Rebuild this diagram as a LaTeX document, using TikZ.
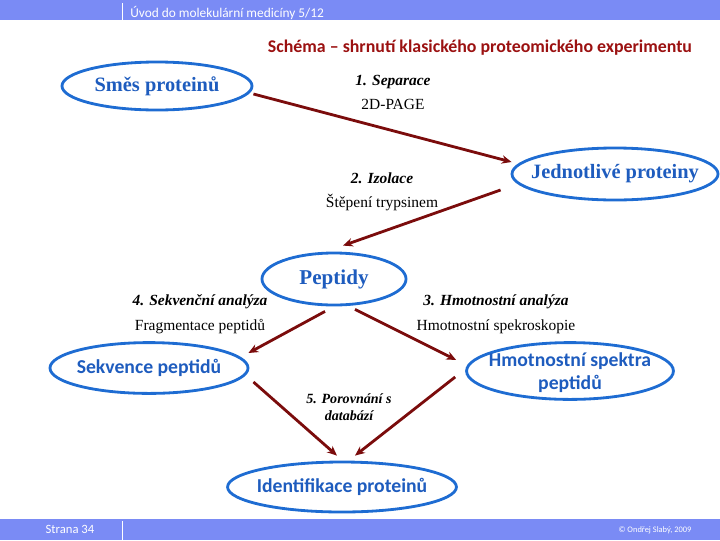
\documentclass[tikz,border=0pt]{standalone}
\usepackage{fontspec}
\setmainfont{Liberation Serif}
\newfontfamily\calibri{Carlito}
\usepackage{tikz}
\usetikzlibrary{positioning, arrows.meta, shapes.geometric}
\definecolor{barblue}{RGB}{122,139,245}
\definecolor{ovalblue}{RGB}{30,108,210}
\definecolor{textblue}{RGB}{30,92,190}
\definecolor{darkred}{RGB}{123,12,12}
\definecolor{titlered}{RGB}{155,17,17}

\begin{document}
\begin{tikzpicture}[
    x=0.025cm, y=-0.025cm,
    oval/.style={ellipse, draw=ovalblue, line width=2pt, inner sep=0pt},
    seriftext/.style={text=textblue, font=\bfseries\fontsize{14.5}{16}\selectfont},
    sanstext/.style={text=textblue, font=\calibri\bfseries\fontsize{14}{16}\selectfont, align=center},
    steplbl/.style={font=\bfseries\itshape\fontsize{11}{13}\selectfont, inner sep=1pt, align=center},
    method/.style={font=\fontsize{11}{13}\selectfont, inner sep=1pt},
    arrow/.style={-{Stealth[length=7pt, width=6pt]}, line width=2pt, darkred},
    bartext/.style={font=\calibri\fontsize{9.5}{11}\selectfont, text=white, inner sep=0pt}
]
\useasboundingbox (0,0) rectangle (720,540);

% Header and footer bars
\fill[barblue] (0,0) rectangle (720,20);
\fill[barblue] (0,519) rectangle (720,540);
\draw[white, thin] (122,3) -- (122,20);
\draw[white, thin] (122,521) -- (122,540);
\node[bartext, anchor=west] (course) at (130,13) {Úvod do molekulární medicíny 5/12};
\node[bartext, font=\calibri\fontsize{9}{10}\selectfont] (page) at (70,529) {Strana 34};
\node[bartext, font=\calibri\fontsize{6}{7}\selectfont] (copy) at (655,530) {© Ondřej Slabý, 2009};

% Title
\node[font=\calibri\bfseries\fontsize{12.7}{14}\selectfont, text=titlered] (title) at (480,48)
    {Schéma – shrnutí klasického proteomického experimentu};

% Ovals (text as centre labels, so the ovals keep their size)
\node[oval, minimum width=4.75cm, minimum height=1.2cm,
      label={[seriftext]center:Směs proteinů}] (smes) at (157,86) {};
\node[oval, minimum width=5.15cm, minimum height=1.3cm,
      label={[seriftext]center:Jednotlivé proteiny}] (jedn) at (615,174) {};
\node[oval, minimum width=3.6cm, minimum height=1.3cm,
      label={[seriftext, font=\bfseries\fontsize{15}{16}\selectfont]center:Peptidy}] (pep) at (334,279) {};
\node[oval, minimum width=4.95cm, minimum height=1.27cm,
      label={[sanstext]center:Sekvence peptidů}] (sek) at (149,368) {};
\node[oval, minimum width=5.17cm, minimum height=1.42cm,
      label={[sanstext, yshift=-1pt]center:Hmotnostní spektra\\peptidů}] (hms) at (570,371) {};
\node[oval, minimum width=5.72cm, minimum height=1.25cm,
      label={[sanstext]center:Identifikace proteinů}] (iden) at (342,487) {};

% Step labels
\node[steplbl] (sep1) at (393,82) {1. Separace};
\node[method, below=5pt of sep1] (sep2) {2D-PAGE};
\node[steplbl] (izo1) at (382,178) {2. Izolace};
\node[method, below=5pt of izo1] (izo2) {Štěpení trypsinem};
\node[steplbl] (seq1) at (200,302) {4. Sekvenční analýza};
\node[method, below=5pt of seq1] (seq2) {Fragmentace peptidů};
\node[steplbl] (ms1) at (496,302) {3. Hmotnostní analýza};
\node[method, below=5pt of ms1] (ms2) {Hmotnostní spekroskopie};
\node[steplbl, font=\bfseries\itshape\fontsize{10}{12.5}\selectfont] (cmp) at (349,407) {5. Porovnání s\\databází};

% Arrows
\draw[arrow] ([shift={(0,8)}]smes.east) -- ([shift={(1,-12)}]jedn.west);
\draw[arrow] ([shift={(-10,16)}]jedn.west) -- ([shift={(9,-6)}]pep.north);
\draw[arrow] ([shift={(-9,5)}]pep.south) -- ([shift={(-1,-15)}]sek.east);
\draw[arrow] ([shift={(21,3)}]pep.south) -- ([shift={(-9,-11)}]hms.west);
\draw[arrow] ([shift={(4,14)}]sek.east) -- ([shift={(-5,-5)}]iden.north);
\draw[arrow] ([shift={(-10,6)}]hms.west) -- ([shift={(13,-5)}]iden.north);

\end{tikzpicture}
\end{document}
